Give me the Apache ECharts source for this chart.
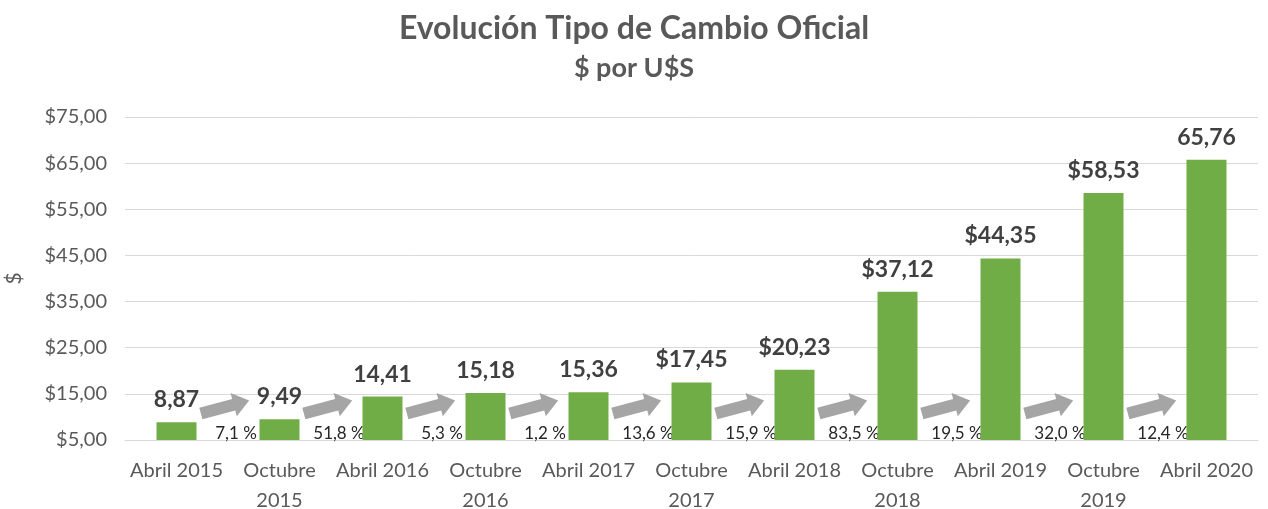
<!DOCTYPE html>
<html>
<head>
<meta charset="utf-8">
<script src="https://cdn.jsdelivr.net/npm/echarts@6/dist/echarts.min.js"></script>
<style>
  html, body { margin: 0; padding: 0; background: #fff; }
  #chart { width: 1268px; height: 509px; }
</style>
</head>
<body>
<div id="chart"></div>
<script>
// data
var categories = ['Abril 2015', 'Octubre\n2015', 'Abril 2016', 'Octubre\n2016', 'Abril 2017', 'Octubre\n2017',
                  'Abril 2018', 'Octubre\n2018', 'Abril 2019', 'Octubre\n2019', 'Abril 2020'];
var values = [8.87, 9.49, 14.41, 15.18, 15.36, 17.45, 20.23, 37.12, 44.35, 58.53, 65.76];
var valueLabels = ['8,87', '9,49', '14,41', '15,18', '15,36', '$17,45', '$20,23', '$37,12', '$44,35', '$58,53', '65,76'];
var changes = [7.1, 51.8, 5.3, 1.2, 13.6, 15.9, 83.5, 19.5, 32.0, 12.4];
var yTicks = { min: 5, max: 75, interval: 10 };

var FONT = 'Lato';
var chart = echarts.init(document.getElementById('chart'));

function fmtMoney(v) {
    return '$' + v.toFixed(2).replace('.', ',');
}

// arrow between two bars, drawn in pixels around a center
function arrowPoints(cx, cy) {
    var pts = [[-25, -6], [9, -6], [9, -12], [25, 0], [9, 12], [9, 6], [-25, 6]];
    var a = -15 * Math.PI / 180;
    var c = Math.cos(a), s = Math.sin(a);
    return pts.map(function (p) {
        return [cx + p[0] * c - p[1] * s, cy + p[0] * s + p[1] * c];
    });
}

var option = {
    backgroundColor: '#fff',
    animation: false,
    title: [{
        text: 'Evolución Tipo de Cambio Oficial',
        left: 'center',
        top: 8,
        textStyle: { fontFamily: FONT, fontSize: 32, fontWeight: 'bold', color: '#595959' }
    }, {
        text: '$ por U$S',
        left: 'center',
        top: 50,
        textStyle: { fontFamily: FONT, fontSize: 27, fontWeight: 'bold', color: '#595959' }
    }],
    grid: { left: 125, right: 10, top: 117, bottom: 69, outerBoundsMode: 'none' },
    xAxis: {
        type: 'category',
        data: categories,
        axisLine: { show: true, lineStyle: { color: '#d9d9d9' } },
        axisTick: { show: false },
        axisLabel: { fontFamily: FONT, fontSize: 20, color: '#595959', margin: 16, lineHeight: 30, interval: 0 }
    },
    yAxis: {
        type: 'value',
        min: yTicks.min,
        max: yTicks.max,
        interval: yTicks.interval,
        name: '$',
        nameLocation: 'middle',
        nameGap: 100,
        nameRotate: 90,
        nameTextStyle: { fontFamily: FONT, fontSize: 21, color: '#595959' },
        axisLine: { show: false },
        axisTick: { show: false },
        splitLine: { lineStyle: { color: '#d9d9d9' } },
        axisLabel: {
            fontFamily: FONT, fontSize: 20, color: '#595959', margin: 18,
            formatter: fmtMoney
        }
    },
    series: [{
        type: 'bar',
        data: values,
        barWidth: 40,
        itemStyle: { color: '#70AD47' },
        label: {
            show: true,
            position: 'top',
            distance: 11,
            fontFamily: FONT,
            fontSize: 23,
            fontWeight: 'bold',
            color: '#404040',
            formatter: function (p) { return valueLabels[p.dataIndex]; }
        }
    }, {
        type: 'custom',
        data: changes.map(function (v, i) { return [i, v]; }),
        encode: { x: 0 },
        silent: true,
        renderItem: function (params, api) {
            var i = api.value(0);
            var a = api.coord([i, yTicks.min]);
            var b = api.coord([i + 1, yTicks.min]);
            var mid = (a[0] + b[0]) / 2;
            var pct = api.value(1).toFixed(1).replace('.', ',') + ' %';
            return {
                type: 'group',
                children: [{
                    type: 'polygon',
                    shape: { points: arrowPoints(mid - 3, a[1] - 33) },
                    style: { fill: '#A5A5A5' }
                }, {
                    type: 'text',
                    x: mid + 8,
                    y: a[1] - 6,
                    style: {
                        text: pct,
                        fontFamily: FONT,
                        fontSize: 17,
                        fill: '#262626',
                        align: 'center',
                        verticalAlign: 'middle'
                    }
                }]
            };
        }
    }]
};

chart.setOption(option);
</script>
</body>
</html>
